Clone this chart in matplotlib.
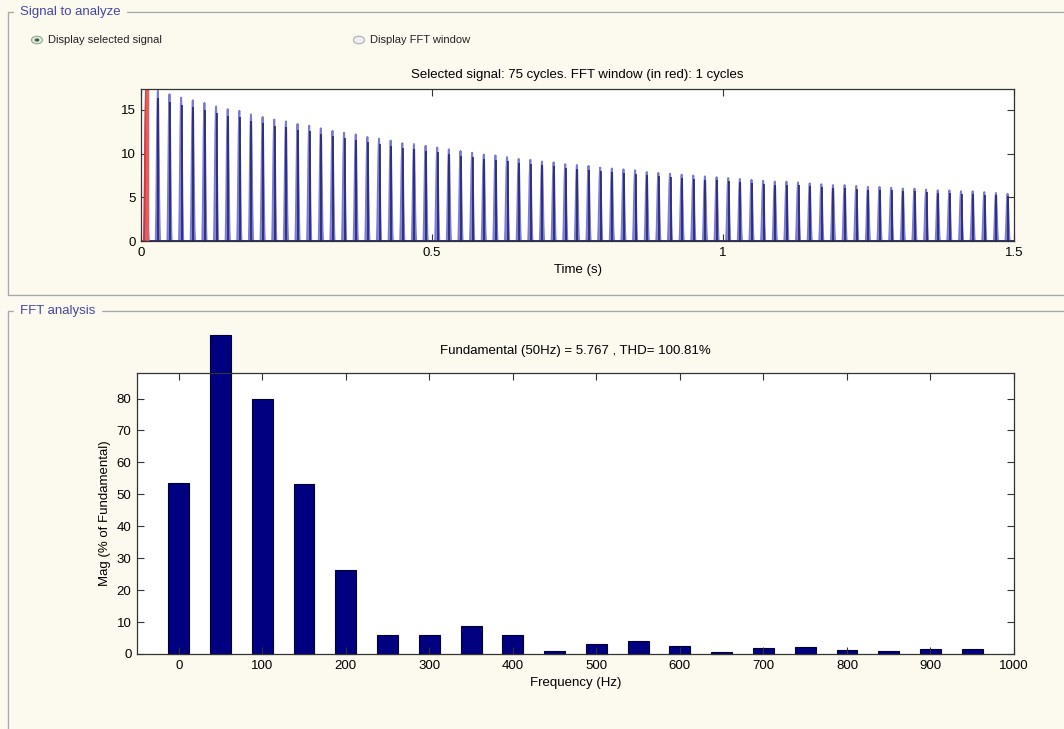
import matplotlib
matplotlib.use("Agg")
import matplotlib.pyplot as plt
from matplotlib.patches import Rectangle, Circle
import numpy as np

plt.rcParams['font.family'] = ['Liberation Sans', 'DejaVu Sans']

# signal: peak of each of the 75 current pulses (one per 50 Hz cycle)
pulse_peaks = [17.3, 17.2, 16.8, 16.4, 16.1, 15.8, 15.4, 15.1, 14.9, 14.5,
               14.2, 13.9, 13.7, 13.4, 13.2, 12.9, 12.6, 12.4, 12.2, 11.9,
               11.7, 11.5, 11.2, 11.1, 10.9, 10.7, 10.5, 10.3, 10.1, 9.9,
               9.8, 9.6, 9.4, 9.3, 9.1, 9.0, 8.8, 8.7, 8.6, 8.4,
               8.3, 8.2, 8.1, 7.9, 7.8, 7.7, 7.6, 7.5, 7.4, 7.3,
               7.2, 7.1, 7.0, 6.9, 6.8, 6.8, 6.7, 6.6, 6.5, 6.4,
               6.4, 6.3, 6.2, 6.2, 6.1, 6.0, 6.0, 5.9, 5.8, 5.8,
               5.7, 5.7, 5.6, 5.5, 5.4]
first_pulse_t = 0.009
period = 0.02
# shape of one pulse: offset (s) and relative amplitude
shape_dt = [-0.0036, -0.0028, -0.002, -0.0012, -0.0004, 0.0, 0.0006, 0.0014, 0.0022, 0.003, 0.0036]
shape_amp = [0.0, 0.2, 0.5, 0.8, 0.97, 1.0, 0.9, 0.6, 0.3, 0.08, 0.0]

# FFT bars
freqs = [0, 50, 100, 150, 200, 250, 300, 350, 400, 450,
         500, 550, 600, 650, 700, 750, 800, 850, 900, 950]
mags = [53.5, 100, 80, 53.2, 26.4, 6.0, 6.0, 8.8, 6.0, 1.0,
        3.0, 4.0, 2.5, 0.5, 2.0, 2.3, 1.2, 0.8, 1.5, 1.5]

bg = '#fcfaee'
box_col = '#a8a8a8'
title_col = '#4646a6'

# build the time signal
t = [0.0]
y = [0.0]
for k, pk in enumerate(pulse_peaks):
    tc = first_pulse_t + k * period
    for dt, a in zip(shape_dt, shape_amp):
        t.append(tc + dt)
        y.append(pk * a)
t.append(1.5)
y.append(0.0)
t = np.array(t)
y = np.array(y)

fig = plt.figure(figsize=(10.64, 7.29), dpi=100, facecolor=bg)
W, H = 1064.0, 729.0

def fx(px):
    return px / W

def fy(py):
    return 1 - py / H

# group boxes
for (x0, y0, x1, y1) in [(8, 12, 1070, 295), (8, 311, 1070, 740)]:
    fig.patches.append(Rectangle((fx(x0) + 0.001, fy(y1) - 0.0015), fx(x1 - x0), fy(y0) - fy(y1),
                                 transform=fig.transFigure, fill=False, ec='white', lw=1))
    fig.patches.append(Rectangle((fx(x0), fy(y1)), fx(x1 - x0), fy(y0) - fy(y1),
                                 transform=fig.transFigure, fill=False, ec=box_col, lw=1))
fig.text(fx(20), fy(12), 'Signal to analyze', color=title_col, fontsize=9.5,
         va='center', ha='left', backgroundcolor=bg)
fig.text(fx(20), fy(311), 'FFT analysis', color=title_col, fontsize=9.5,
         va='center', ha='left', backgroundcolor=bg)

# radio buttons
fig.patches.append(Circle((fx(37), fy(40)), 0.0052, transform=fig.transFigure,
                          fc='#dfe8e0', ec='#9aa49a', lw=0.8))
fig.patches.append(Circle((fx(37), fy(40)), 0.0022, transform=fig.transFigure,
                          fc='#2f6a3a', ec='none'))
fig.text(fx(48), fy(40), 'Display selected signal', fontsize=8, va='center', color='#222222')
fig.patches.append(Circle((fx(359), fy(40)), 0.0052, transform=fig.transFigure,
                          fc='#eeeeee', ec='#b0b0b0', lw=0.8))
fig.text(fx(370), fy(40), 'Display FFT window', fontsize=8, va='center', color='#222222')

# top axes: signal
ax1 = fig.add_axes([fx(141), fy(241), fx(1014 - 141), fy(89) - fy(241)])
ax1.fill_between(t, y, 0, color='#8888e2', lw=0)
ax1.plot(t, y, color='#7a7ad8', lw=1.4)
ax1.vlines(first_pulse_t + np.arange(len(pulse_peaks)) * period + 0.0008, 0,
           np.array(pulse_peaks) * 0.95, color='#1c1c5e', lw=1.1)
ax1.axhline(0.05, color='#1c1c5e', lw=1.8)
red = (t >= 0.0) & (t <= 0.014)
ax1.plot(t[red], y[red], color='#e03030', lw=1.5)
ax1.axvline(0.0095, color='#e06060', lw=2.5)
ax1.set_xlim(0, 1.5)
ax1.set_ylim(0, 17.4)
ax1.set_xticks([0, 0.5, 1, 1.5])
ax1.set_xticklabels(['0', '0.5', '1', '1.5'])
ax1.set_yticks([0, 5, 10, 15])
ax1.set_xlabel('Time (s)', fontsize=9.5)
ax1.set_title('Selected signal: 75 cycles. FFT window (in red): 1 cycles', fontsize=9.5, pad=8)

# bottom axes: FFT
ax2 = fig.add_axes([fx(137), fy(654), fx(1014 - 137), fy(373) - fy(654)])
bars = ax2.bar(freqs, mags, width=25, color='#000080', edgecolor='#000030', lw=0.8)
for b in bars:
    b.set_clip_on(False)
ax2.set_xlim(-50, 1000)
ax2.set_ylim(0, 88)
ax2.set_xticks(range(0, 1001, 100))
ax2.set_yticks(range(0, 81, 10))
ax2.set_xlabel('Frequency (Hz)', fontsize=9.5)
ax2.set_ylabel('Mag (% of Fundamental)', fontsize=9.5)
ax2.set_title('Fundamental (50Hz) = 5.767 , THD= 100.81%', fontsize=9.5, pad=14)

for ax in (ax1, ax2):
    ax.set_facecolor('white')
    ax.tick_params(direction='in', top=True, right=True, labelsize=9.5, length=5,
                   color='#333333', pad=4)
    for s in ax.spines.values():
        s.set_color('#333333')
        s.set_linewidth(0.9)

fig.savefig('out.png', dpi=100, facecolor=bg)
